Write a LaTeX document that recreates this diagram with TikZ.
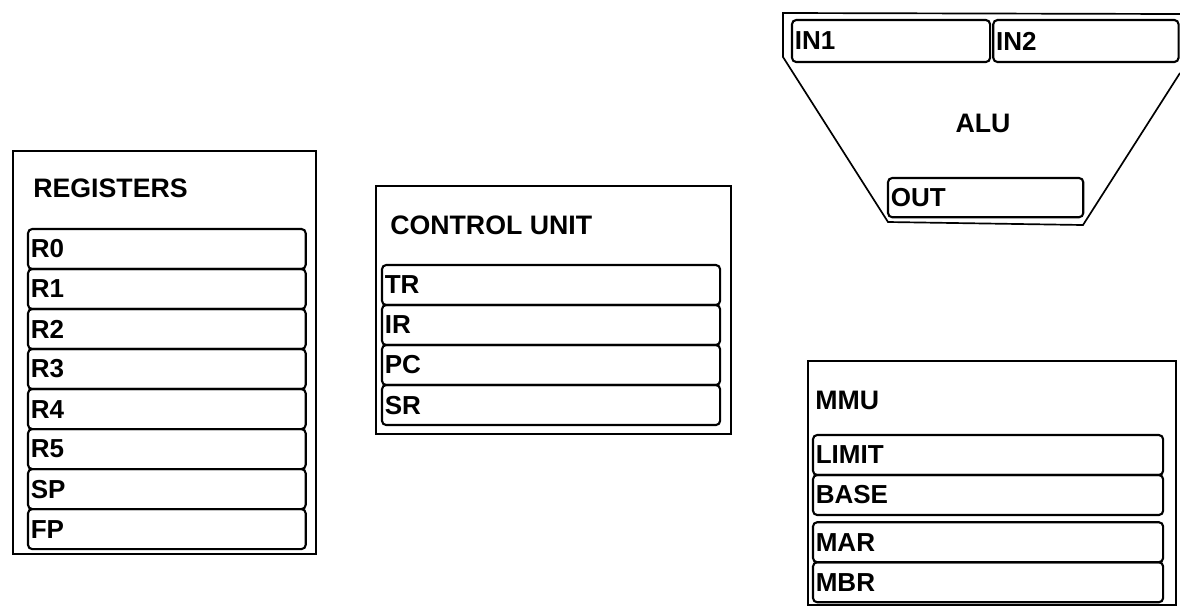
\documentclass[tikz,border=0pt]{standalone}
\usepackage{fontspec}
\setmainfont{Liberation Sans}
\usetikzlibrary{positioning}

\begin{document}
\begin{tikzpicture}[x=0.025cm,y=-0.025cm]
  % CPU parts sketch: register file, control unit, ALU, MMU
  \tikzset{unit/.style={draw,line width=1.2pt,anchor=north west,inner sep=0pt},
    cell/.style={draw,line width=1.5pt,rounded corners=3pt,minimum height=1cm,inner xsep=2pt,
      outer sep=0pt,text width=#1,align=left,font=\fontsize{18.5}{20}\selectfont\bfseries},
    caption/.style={anchor=west,inner sep=0pt,font=\fontsize{19}{21}\selectfont\bfseries}}
  \useasboundingbox (0,0) rectangle (1180,614);

  % registers
  \node[unit,minimum width=7.575cm,minimum height=10.075cm] (regs) at (12,150) {};
  \node[caption] (regt) at (33,188) {REGISTERS};
  \node[cell=6.8cm,anchor=north west] (r0) at (28,229) {R0};
  \node[cell=6.8cm,below=0pt of r0] (r1) {R1};
  \node[cell=6.8cm,below=0pt of r1] (r2) {R2};
  \node[cell=6.8cm,below=0pt of r2] (r3) {R3};
  \node[cell=6.8cm,below=0pt of r3] (r4) {R4};
  \node[cell=6.8cm,below=0pt of r4] (r5) {R5};
  \node[cell=6.8cm,below=0pt of r5] (sp) {SP};
  \node[cell=6.8cm,below=0pt of sp] (fp) {FP};

  % control unit
  \node[unit,minimum width=8.875cm,minimum height=6.2cm] (ctrl) at (375,185) {};
  \node[caption] (ctrlt) at (390,225) {CONTROL UNIT};
  \node[cell=8.31cm,anchor=north west] (tr) at (382,265) {TR};
  \node[cell=8.31cm,below=0pt of tr] (ir) {IR};
  \node[cell=8.31cm,below=0pt of ir] (pc) {PC};
  \node[cell=8.31cm,below=0pt of pc] (sr) {SR};

  % alu
  \draw[line width=1.2pt] (1180,14) -- (783,13) -- (783,57) -- (888,222) -- (1083,225) -- (1180,73);
  \node[cell=4.81cm,minimum height=1.05cm,anchor=north west] (in1) at (792,20) {IN1};
  \node[cell=4.49cm,minimum height=1.05cm,right=0.08cm of in1] (in2) {IN2};
  \node[cell=4.74cm,minimum height=0.98cm,anchor=north west] (out) at (888,178) {OUT};
  \node[caption,anchor=center] (alut) at (983,123) {ALU};

  % mmu
  \node[unit,minimum width=9.2cm,minimum height=6.1cm] (mmu) at (807,360) {};
  \node[caption] (mmut) at (815,400) {MMU};
  \node[cell=8.61cm,anchor=north west] (limit) at (813,435) {LIMIT};
  \node[cell=8.61cm,below=0pt of limit] (base) {BASE};
  \node[cell=8.61cm,below=0.18cm of base] (mar) {MAR};
  \node[cell=8.61cm,below=0pt of mar] (mbr) {MBR};
\end{tikzpicture}
\end{document}
